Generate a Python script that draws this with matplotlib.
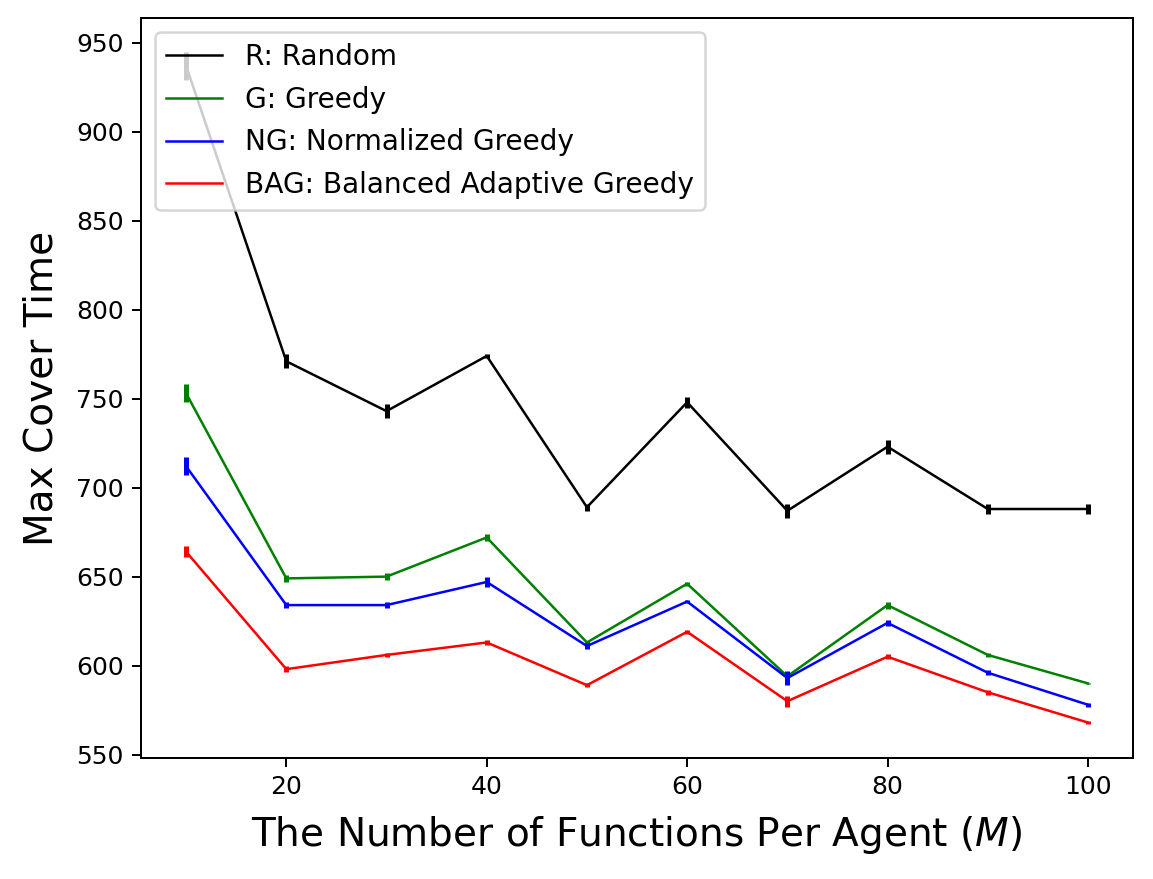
import matplotlib.pyplot as plt
import numpy as np

# Number of functions per agent
m_values = [10, 20, 30, 40, 50, 60, 70, 80, 90, 100]

# Mean max cover time and error for each strategy
random_mean = [937, 771, 743, 774, 689, 748, 687, 723, 688, 688]
random_err = [8, 4, 4, 1, 2, 3, 4, 4, 3, 3]

greedy_mean = [753, 649, 650, 672, 613, 646, 594, 634, 606, 590]
greedy_err = [5, 2, 2, 2, 1, 1, 2, 2, 1, 0.5]

ng_mean = [712, 634, 634, 647, 611, 636, 593, 624, 596, 578]
ng_err = [5, 1.5, 1.5, 3, 1.5, 1, 4, 1.5, 1.5, 1]

bag_mean = [664, 598, 606, 613, 589, 619, 580, 605, 585, 568]
bag_err = [3, 1.5, 1, 1.5, 1, 1, 3, 1.5, 1.5, 1]

labels = ["R: Random", "G: Greedy", "NG: Normalized Greedy",
          "BAG: Balanced Adaptive Greedy"]
colors = ["black", "green", "blue", "red"]

fig = plt.figure(figsize=(1153 / 180, 879 / 180), dpi=180)
ax = fig.add_axes([0.1223, 0.1377, 0.8604, 0.8418])

series = [(random_mean, random_err), (greedy_mean, greedy_err),
          (ng_mean, ng_err), (bag_mean, bag_err)]
for (mean, err), lab, col in zip(series, labels, colors):
    ax.plot(m_values, mean, color=col, label=lab, linewidth=1)
    ax.errorbar(m_values, mean, yerr=err, fmt="none", ecolor=col,
                elinewidth=2)

ax.set_xlabel("The Number of Functions Per Agent ($M$)", fontsize=15.6,
              labelpad=6)
ax.set_ylabel("Max Cover Time", fontsize=15.6, labelpad=6)
ax.set_xticks([20, 40, 60, 80, 100])
ax.set_yticks(np.arange(550, 951, 50))
ax.legend(loc="upper left", fontsize=11.2, labelspacing=0.52)

fig.savefig("out.png", dpi=180)
